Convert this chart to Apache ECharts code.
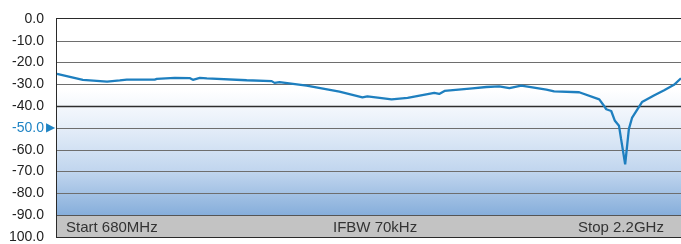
<!DOCTYPE html>
<html>
<head>
<meta charset="utf-8">
<script src="https://cdn.jsdelivr.net/npm/echarts@6/dist/echarts.min.js"></script>
<style>
  html, body { margin: 0; padding: 0; background: #fff; }
  #container { width: 681px; height: 244px; }
</style>
</head>
<body>
<div id="container"></div>
<script>
// trace: frequency (MHz) and level (dB)
var freqMHz = [680, 743, 802, 833, 850, 918, 923, 967, 1003, 1011, 1028, 1045, 1142, 1203, 1210, 1222,
    1288, 1368, 1424, 1436, 1466, 1495, 1534, 1599, 1611, 1624, 1692, 1726, 1757, 1782, 1811, 1838,
    1872, 1891, 1952, 2001, 2010, 2018, 2030, 2039, 2049, 2054, 2064, 2073, 2081, 2105, 2134, 2159,
    2183, 2200];
var levelDb = [-25.2, -27.9, -28.7, -28.2, -27.8, -27.8, -27.5, -27.0, -27.1, -27.9, -27.0, -27.2, -28.1, -28.5, -29.3, -29.0,
    -30.6, -33.3, -35.9, -35.5, -36.2, -36.9, -36.2, -33.9, -34.4, -33.0, -31.8, -31.2, -30.9, -31.7, -30.6, -31.4,
    -32.4, -33.2, -33.6, -36.9, -39.2, -41.4, -42.2, -46.7, -49.0, -55.0, -66.7, -50.5, -45.2, -38.1, -35.1, -32.7,
    -30.2, -27.2];
var gridLevels = [-10, -20, -30, -50, -60, -70, -80];
var startLabel = 'Start 680MHz';
var midLabel = 'IFBW 70kHz';
var stopLabel = 'Stop 2.2GHz';
var refLevel = -50;

var dom = document.getElementById('container');
var myChart = echarts.init(dom);

var seriesData = [];
for (var i = 0; i < freqMHz.length; i++) {
    seriesData.push([freqMHz[i], levelDb[i]]);
}
var hLines = [];
for (var j = 0; j < gridLevels.length; j++) {
    hLines.push({ yAxis: gridLevels[j] });
}
hLines.push({ yAxis: -40, lineStyle: { color: '#2e2e2e', width: 1.4 } });
hLines.push({ yAxis: -90, lineStyle: { color: '#555', width: 1.2 } });

var option = {
    animation: false,
    backgroundColor: '#ffffff',
    textStyle: { fontFamily: 'Liberation Sans' },
    grid: {
        left: 57, top: 19, right: -6, bottom: 5,
        show: true, borderColor: '#2a2a2a', borderWidth: 2
    },
    xAxis: [{
        type: 'value', min: 680, max: 2200,
        axisLine: { show: false }, axisTick: { show: false }, axisLabel: { show: false },
        splitLine: { show: false }
    }, {
        type: 'value', min: 0, max: 10, interval: 1, position: 'bottom',
        axisLine: { show: false }, axisTick: { show: false }, axisLabel: { show: false },
        splitLine: { show: true, lineStyle: { color: '#7a7a7a', width: 1 } }
    }],
    yAxis: {
        type: 'value', min: -100, max: 0, interval: 10,
        axisLine: { show: false }, axisTick: { show: false },
        splitLine: { show: false },
        axisLabel: {
            margin: 1,
            formatter: function(v) {
                if (v === refLevel) return '{b|' + v.toFixed(1) + '}{t|▶}';
                if (v === -100) return '{a|100.0}{s|}';
                return '{a|' + v.toFixed(1) + '}{s|}';
            },
            rich: {
                a: { fontSize: 14, color: '#222', fontFamily: 'Liberation Sans' },
                b: { fontSize: 14, color: '#1f84c4', fontFamily: 'Liberation Sans' },
                t: { fontSize: 12, color: '#1f84c4', width: 12, align: 'left' },
                s: { width: 12 }
            }
        }
    },
    series: [{
        // background bands and horizontal divisions
        type: 'line',
        xAxisIndex: 1,
        data: [],
        z: -5,
        silent: true,
        markArea: {
            silent: true,
            data: [
                [{
                    yAxis: 0,
                    itemStyle: {
                        color: new echarts.graphic.LinearGradient(0, 0, 0, 1, [
                            { offset: 0, color: '#ffffff' },
                            { offset: 0.36, color: '#ffffff' },
                            { offset: 0.52, color: '#eaf1fa' },
                            { offset: 0.78, color: '#c0d5ee' },
                            { offset: 1, color: '#86aedb' }
                        ])
                    }
                }, { yAxis: -90 }],
                [{ yAxis: -90, itemStyle: { color: '#c3c3c3' } }, { yAxis: -100 }]
            ]
        }
    }, {
        type: 'line',
        xAxisIndex: 1,
        data: [],
        z: 2,
        silent: true,
        markLine: {
            silent: true,
            symbol: 'none',
            label: { show: false },
            emphasis: { disabled: true },
            lineStyle: { color: '#6e6e6e', width: 1.2, type: 'solid' },
            data: hLines
        }
    }, {
        type: 'line',
        xAxisIndex: 0,
        data: seriesData,
        symbol: 'none',
        lineStyle: { color: '#1e7fbf', width: 2.3 },
        z: 5
    }],
    graphic: [
        { type: 'text', left: 66, top: 220, z: 10, style: { text: startLabel, fontSize: 15, fill: '#333', fontFamily: 'Liberation Sans' } },
        { type: 'text', left: 333, top: 220, z: 10, style: { text: midLabel, fontSize: 15, fill: '#333', fontFamily: 'Liberation Sans' } },
        { type: 'text', left: 578, top: 220, z: 10, style: { text: stopLabel, fontSize: 15, fill: '#333', fontFamily: 'Liberation Sans' } }
    ]
};

myChart.setOption(option, true);
</script>
</body>
</html>
